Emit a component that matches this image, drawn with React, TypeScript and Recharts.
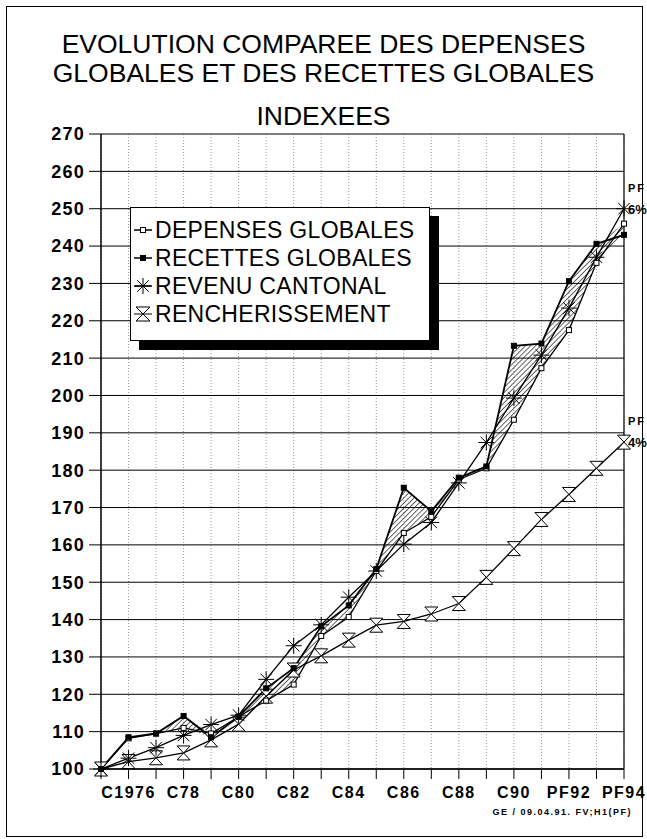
import React from 'react';
import { ComposedChart, Line, Area, XAxis, YAxis, CartesianGrid, ReferenceLine, ReferenceDot } from 'recharts';

// years on the x axis, only every other one gets a label
const years = ['C75', 'C1976', 'C77', 'C78', 'C79', 'C80', 'C81', 'C82', 'C83', 'C84', 'C85', 'C86', 'C87', 'C88', 'C89', 'C90', 'C91', 'PF92', 'PF93', 'PF94'];
const shownTicks = ['C1976', 'C78', 'C80', 'C82', 'C84', 'C86', 'C88', 'C90', 'PF92', 'PF94'];
const yTicks = [100, 110, 120, 130, 140, 150, 160, 170, 180, 190, 200, 210, 220, 230, 240, 250, 260, 270];

const depenses = [100, 108.2, 109.5, 111, 109.5, 114, 118.3, 122.6, 135.6, 140.7, 153, 163.2, 167.5, 177.5, 180.5, 193.5, 207.3, 217.5, 235.5, 246];
const recettes = [100, 108.5, 109.5, 114.2, 108.5, 114, 121.6, 127, 138.2, 143.8, 153.5, 175.3, 169, 178, 181, 213.3, 213.9, 230.6, 240.6, 243];
const revenu = [100, 102.9, 105.7, 109, 111.9, 114.4, 124, 133, 138.6, 146, 153, 160.2, 166, 176.6, 187.4, 199.3, 210.8, 223.4, 237, 250];
const rencherissement = [100, 102, 103, 104.3, 107.8, 112, 119.5, 126.5, 130.3, 134.5, 138.5, 139.5, 141.5, 144.3, 151.3, 159, 166.8, 173.5, 180.5, 187.5];

const data = years.map((y, i) => ({
  year: y,
  dep: depenses[i],
  rec: recettes[i],
  rev: revenu[i],
  ren: rencherissement[i],
  band: [Math.min(depenses[i], recettes[i]), Math.max(depenses[i], recettes[i])],
}));

const FONT = '"Liberation Sans", Arial, sans-serif';

const SquareDot = (filled: boolean) => (p: any) => {
  const { cx, cy, index } = p;
  if (cx == null || cy == null) return <g key={`s-${index}`} />;
  return <rect key={`s-${index}`} x={cx - 2.5} y={cy - 2.5} width={5} height={5} fill={filled ? '#000' : '#fff'} stroke="#000" strokeWidth={1} />;
};

const starPath = (cx: number, cy: number, r: number) => {
  const d = r * 0.72;
  return `M${cx - r},${cy}L${cx + r},${cy}M${cx},${cy - r}L${cx},${cy + r}M${cx - d},${cy - d}L${cx + d},${cy + d}M${cx - d},${cy + d}L${cx + d},${cy - d}`;
};

const StarDot = (p: any) => {
  const { cx, cy, index } = p;
  if (cx == null || cy == null) return <g key={`a-${index}`} />;
  return <path key={`a-${index}`} d={starPath(cx, cy, 8)} stroke="#000" strokeWidth={1} fill="none" />;
};

const hourglassPath = (cx: number, cy: number, w: number, h: number) =>
  `M${cx - w},${cy - h}L${cx + w},${cy - h}L${cx - w},${cy + h}L${cx + w},${cy + h}Z`;

const HourglassDot = (p: any) => {
  const { cx, cy, index } = p;
  if (cx == null || cy == null) return <g key={`h-${index}`} />;
  return <path key={`h-${index}`} d={hourglassPath(cx, cy, 6.5, 7)} stroke="#000" strokeWidth={1} fill="#fff" />;
};

const legendItems = [
  { name: 'DEPENSES GLOBALES', kind: 'sq' },
  { name: 'RECETTES GLOBALES', kind: 'sqf' },
  { name: 'REVENU CANTONAL', kind: 'star' },
  { name: 'RENCHERISSEMENT', kind: 'hg' },
];

const LegendMarker = ({ kind }: { kind: string }) => (
  <svg width={18} height={20} style={{ marginRight: 3, flex: 'none' }}>
    {kind !== 'hg' && <line x1={0} y1={10} x2={18} y2={10} stroke="#000" strokeWidth={1.5} />}
    {kind === 'sq' && <rect x={6.5} y={7.5} width={5} height={5} fill="#fff" stroke="#000" />}
    {kind === 'sqf' && <rect x={6.5} y={7.5} width={5} height={5} fill="#000" stroke="#000" />}
    {kind === 'star' && <path d={starPath(9, 10, 8)} stroke="#000" fill="none" />}
    {kind === 'hg' && (
      <>
        <line x1={0} y1={10} x2={18} y2={10} stroke="#000" strokeWidth={1} />
        <path d={hourglassPath(9, 10, 7, 7)} stroke="#000" fill="none" />
      </>
    )}
  </svg>
);

const XTick = (p: any) => {
  const { x, y, payload } = p;
  const show = shownTicks.includes(payload.value);
  return (
    <g transform={`translate(${x},${y})`}>
      {show && (
        <text x={0} y={0} dy={17} textAnchor="middle" fontFamily={FONT} fontWeight="bold" fontSize={16} letterSpacing={1.5} fill="#000">
          {payload.value}
        </text>
      )}
    </g>
  );
};

const EndLabel = (text: string) => (p: any) => {
  const { viewBox } = p;
  const x = viewBox.x + 4;
  const y = viewBox.y;
  return (
    <g>
      <text x={x} y={y - 17} fontFamily={FONT} fontWeight="bold" fontSize={11} letterSpacing={2} fill="#000">PF</text>
      <text x={x} y={y + 5} fontFamily={FONT} fontWeight="bold" fontSize={13} fill="#000">{text}</text>
    </g>
  );
};

export default function App() {
  return (
    <div style={{ position: 'absolute', left: 0, top: 0, width: 647, height: 839, background: '#fff', fontFamily: FONT }}>
      <div style={{ position: 'absolute', left: 6, top: 6, width: 635, height: 829, border: '1px solid #000' }} />
      <div style={{ position: 'absolute', left: 0, top: 30, width: 647, textAlign: 'center', fontSize: 26.5, lineHeight: '29px', color: '#000' }}>
        EVOLUTION COMPAREE DES DEPENSES
        <br />
        GLOBALES ET DES RECETTES GLOBALES
      </div>
      <div style={{ position: 'absolute', left: 0, top: 101, width: 647, textAlign: 'center', fontSize: 26.5, lineHeight: '30px', color: '#000' }}>
        INDEXEES
      </div>
      <div style={{ position: 'absolute', left: 0, top: 0 }}>
        <ComposedChart width={647} height={839} data={data} margin={{ top: 134, right: 23, bottom: 40, left: 41 }}>
          <defs>
            <pattern id="hatch" width={3.6} height={3.6} patternUnits="userSpaceOnUse" patternTransform="rotate(45)">
              <line x1={0} y1={0} x2={0} y2={3.6} stroke="#000" strokeWidth={1.2} />
            </pattern>
          </defs>
          <CartesianGrid horizontal={false} vertical stroke="#999" strokeDasharray="1 2" />
          <CartesianGrid horizontal vertical={false} stroke="#000" strokeWidth={1} />
          <XAxis
            dataKey="year"
            scale="point"
            padding={{ left: 0, right: 0 }}
            interval={0}
            height={30}
            tickSize={10}
            tick={<XTick />}
            stroke="#000"
            axisLine={{ stroke: '#000', strokeWidth: 1.5 }}
            tickLine={{ stroke: '#000' }}
          />
          <YAxis
            domain={[100, 270]}
            ticks={yTicks}
            interval={0}
            width={60}
            tickSize={12}
            tickMargin={4}
            axisLine={{ stroke: '#000', strokeWidth: 1.5 }}
            tickLine={{ stroke: '#000' }}
            tick={{ fill: '#000', fontSize: 18, fontWeight: 'bold', fontFamily: FONT, letterSpacing: 1.2 }}
          />
          <ReferenceLine x="PF94" stroke="#000" strokeWidth={1.2} />
          <Area dataKey="band" stroke="none" fill="url(#hatch)" fillOpacity={1} isAnimationActive={false} activeDot={false} />
          <Line dataKey="ren" stroke="#000" strokeWidth={1.3} dot={HourglassDot} isAnimationActive={false} activeDot={false} />
          <Line dataKey="rev" stroke="#000" strokeWidth={1.3} dot={StarDot} isAnimationActive={false} activeDot={false} />
          <Line dataKey="dep" stroke="#000" strokeWidth={1.3} dot={SquareDot(false)} isAnimationActive={false} activeDot={false} />
          <Line dataKey="rec" stroke="#000" strokeWidth={1.8} dot={SquareDot(true)} isAnimationActive={false} activeDot={false} />
          <ReferenceDot x="PF94" y={250} r={0} label={EndLabel('6%')} />
          <ReferenceDot x="PF94" y={187.5} r={0} label={EndLabel('4%')} />
        </ComposedChart>
      </div>
      <div style={{ position: 'absolute', left: 130, top: 207, width: 300, height: 134, border: '1.5px solid #000', boxShadow: '9px 9px 0 #000', background: '#fff', padding: '8px 0 0 3px', boxSizing: 'border-box' }}>
        {legendItems.map((it) => (
          <div key={it.name} style={{ display: 'flex', alignItems: 'center', height: 28, fontSize: 23, letterSpacing: 0.3, whiteSpace: 'nowrap' }}>
            <LegendMarker kind={it.kind} />
            {it.name}
          </div>
        ))}
      </div>
      <div style={{ position: 'absolute', left: 400, top: 807, width: 232, textAlign: 'right', fontSize: 9, fontWeight: 'bold', letterSpacing: 1.5 }}>
        GE / 09.04.91. FV;H1(PF)
      </div>
    </div>
  );
}
